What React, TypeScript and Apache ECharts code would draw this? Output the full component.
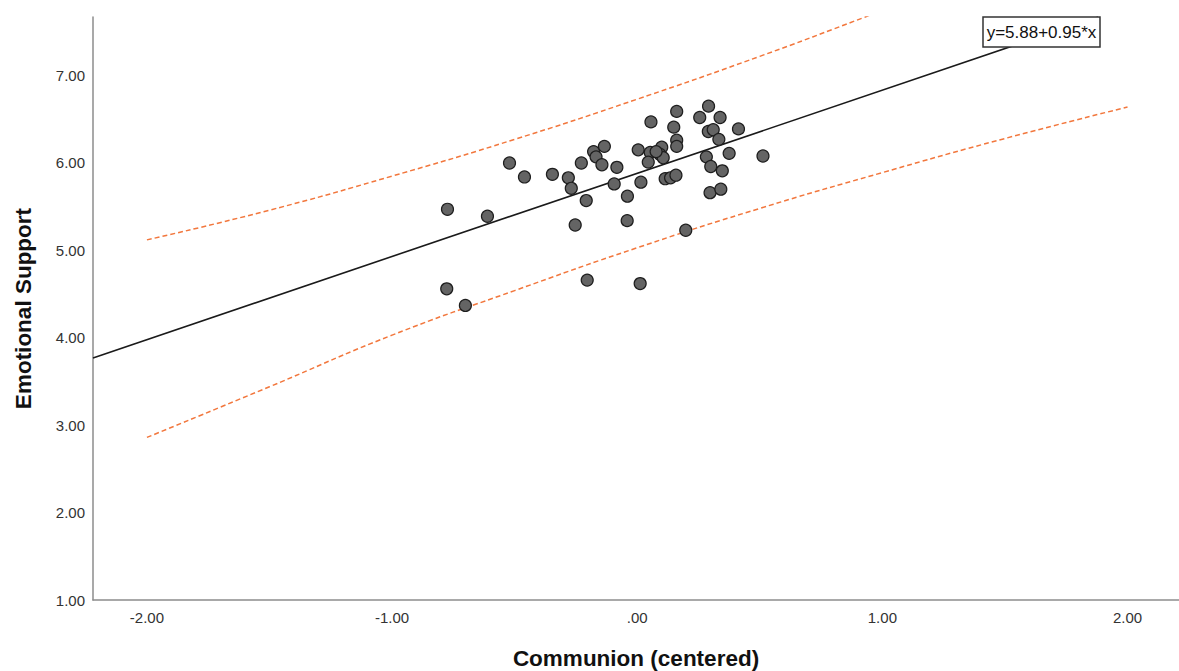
import React, { useEffect, useRef } from "react";
import * as echarts from "echarts";

// Scatter data
const communion = [
  -0.774, -0.611, -0.521, -0.46, -0.346, -0.281, -0.269, -0.228, -0.253, -0.208,
  -0.204, -0.178, -0.168, -0.134, -0.144, -0.083, -0.094, -0.04, -0.041, 0.004,
  0.053, 0.045, 0.015, 0.012, 0.056, 0.1, 0.092, 0.106, 0.077, 0.114,
  0.136, 0.158, 0.161, 0.149, 0.161, 0.161, 0.198, 0.255, 0.291, 0.338,
  0.29, 0.31, 0.333, 0.413, 0.282, 0.375, 0.513, 0.3, 0.297, 0.341,
  -0.777, -0.701, 0.347,
];
const support = [
  5.47, 5.39, 6.0, 5.84, 5.87, 5.83, 5.71, 6.0, 5.29, 5.57,
  4.66, 6.13, 6.07, 6.19, 5.98, 5.95, 5.76, 5.62, 5.34, 6.15,
  6.12, 6.01, 5.78, 4.62, 6.47, 6.18, 6.1, 6.06, 6.13, 5.82,
  5.83, 5.86, 6.59, 6.41, 6.26, 6.19, 5.23, 6.52, 6.65, 6.52,
  6.36, 6.38, 6.27, 6.39, 6.07, 6.11, 6.08, 5.96, 5.66, 5.7,
  4.56, 4.37, 5.91,
];

// Fit line (y = 5.88 + 0.95x) endpoints
const fitX = [-2.22, 1.88];
const fitY = [3.77, 7.67];

// Prediction interval bands
const upperX = [-2.0, -1.5, -1.0, -0.5, 0.0, 0.5, 0.93, 1.0];
const upperY = [5.12, 5.46, 5.85, 6.27, 6.73, 7.22, 7.67, 7.75];
const lowerX = [-2.0, -1.5, -1.0, -0.5, 0.0, 0.5, 1.0, 1.5, 2.0];
const lowerY = [2.86, 3.44, 4.03, 4.54, 5.03, 5.48, 5.89, 6.28, 6.64];

const equationText = "y=5.88+0.95*x";
const xTitle = "Communion (centered)";
const yTitle = "Emotional Support";

const FONT = "'Liberation Sans', Arial, sans-serif";

const fmt = (v: number) => {
  let s = v.toFixed(2);
  if (s.startsWith("0.")) s = s.slice(1);
  if (s.startsWith("-0.")) s = "-" + s.slice(2);
  return s;
};

export default function App() {
  const ref = useRef<HTMLDivElement>(null);
  useEffect(() => {
    if (!ref.current) return;
    const chart = echarts.init(ref.current, undefined, { renderer: "svg" });
    const pts = communion.map((x, i) => [x, support[i]]);
    const fit = fitX.map((x, i) => [x, fitY[i]]);
    const up = upperX.map((x, i) => [x, upperY[i]]);
    const lo = lowerX.map((x, i) => [x, lowerY[i]]);
    chart.setOption({
      animation: false,
      backgroundColor: "#ffffff",
      textStyle: { fontFamily: FONT },
      grid: {
        left: 93,
        right: 0,
        top: 17,
        bottom: 71,
        containLabel: false,
        outerBoundsMode: "none",
      },
      xAxis: {
        type: "value",
        min: -2.22,
        max: 2.21,
        splitLine: { show: false },
        axisTick: { show: false },
        axisLine: { show: true, onZero: false, lineStyle: { color: "#8c8c8c", width: 1.5 } },
        axisLabel: {
          showMinLabel: false,
          showMaxLabel: false,
          formatter: fmt,
          color: "#333",
          fontSize: 15,
          fontFamily: FONT,
          margin: 10,
        },
        name: xTitle,
        nameLocation: "middle",
        nameGap: 47,
        nameTextStyle: { fontSize: 22.5, fontWeight: "bold", color: "#111", fontFamily: FONT },
      },
      yAxis: {
        type: "value",
        min: 1,
        max: 7.67,
        splitLine: { show: false },
        axisTick: { show: false },
        axisLine: { show: true, onZero: false, lineStyle: { color: "#8c8c8c", width: 1.5 } },
        axisLabel: {
          showMaxLabel: false,
          formatter: fmt,
          color: "#333",
          fontSize: 15,
          fontFamily: FONT,
          margin: 8,
        },
        name: yTitle,
        nameLocation: "middle",
        nameGap: 58,
        nameRotate: 90,
        nameTextStyle: { fontSize: 22.5, fontWeight: "bold", color: "#111", fontFamily: FONT },
      },
      series: [
        {
          type: "line",
          data: up,
          smooth: true,
          showSymbol: false,
          clip: true,
          lineStyle: { color: "#f2773d", width: 1.5, type: [5, 3] },
          z: 2,
        },
        {
          type: "line",
          data: lo,
          smooth: true,
          showSymbol: false,
          clip: true,
          lineStyle: { color: "#f2773d", width: 1.5, type: [5, 3] },
          z: 2,
        },
        {
          type: "line",
          data: fit,
          showSymbol: false,
          clip: true,
          lineStyle: { color: "#1a1a1a", width: 1.6 },
          z: 3,
        },
        {
          type: "scatter",
          data: pts,
          symbol: "circle",
          symbolSize: 12,
          itemStyle: { color: "#646464", borderColor: "#1e1e1e", borderWidth: 1.2, opacity: 1 },
          z: 4,
        },
      ],
      graphic: [
        {
          type: "rect",
          z: 100,
          shape: { x: 983, y: 17, width: 117, height: 30 },
          style: { fill: "#ffffff", stroke: "#333", lineWidth: 1.5 },
        },
        {
          type: "text",
          z: 101,
          x: 1041.5,
          y: 32,
          style: {
            text: equationText,
            fill: "#111",
            font: `17px ${FONT}`,
            align: "center",
            verticalAlign: "middle",
          },
        },
      ],
    });
    return () => chart.dispose();
  }, []);
  return (
    <div
      ref={ref}
      style={{ position: "fixed", left: 0, top: 0, width: 1179, height: 671, background: "#fff" }}
    />
  );
}
